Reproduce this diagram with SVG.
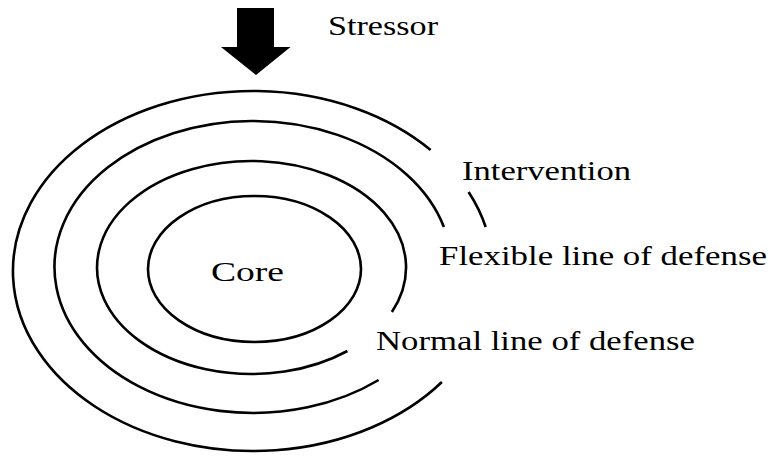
<svg xmlns="http://www.w3.org/2000/svg" width="774" height="456" viewBox="0 0 774 456">
<style>
.ring{fill:none;stroke:#000;stroke-width:2.6}
.lbl{font-family:"Liberation Serif","Times New Roman",serif;font-size:26.5px;fill:#000}
</style>
<rect width="774" height="456" fill="#fff"/>
<g id="stressor">
<polygon points="237,8 274,8 274,47 290.5,47 256,75 221,47 237,47" fill="#000"/>
<text class="lbl" x="328" y="34.5" textLength="110" lengthAdjust="spacingAndGlyphs">Stressor</text>
</g>
<g id="intervention">
<path class="ring" d="M 430.6 150 A 240 180 0 1 0 441.9 382"/>
<path class="ring" d="M 468.6 192 A 240 180 0 0 1 485.7 227"/>
<text class="lbl" x="462" y="180" textLength="169" lengthAdjust="spacingAndGlyphs">Intervention</text>
</g>
<g id="flexible">
<path class="ring" d="M 443.9 227 A 198.5 146 0 1 0 378.6 380"/>
<text class="lbl" x="439" y="265" textLength="328" lengthAdjust="spacingAndGlyphs">Flexible line of defense</text>
</g>
<g id="normal">
<path class="ring" d="M 391.9 312 A 154.5 106.5 0 1 0 347.4 351"/>
<text class="lbl" x="376" y="350" textLength="319" lengthAdjust="spacingAndGlyphs">Normal line of defense</text>
</g>
<g id="core">
<ellipse class="ring" cx="254.5" cy="269" rx="106.5" ry="73"/>
<text class="lbl" x="211" y="280.5" textLength="73" lengthAdjust="spacingAndGlyphs">Core</text>
</g>
<g id="connectors"></g>
</svg>
